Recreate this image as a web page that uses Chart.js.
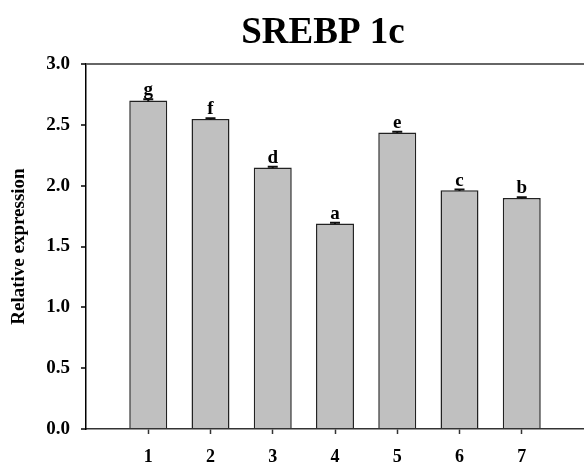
<!DOCTYPE html>
<html>
<head>
<meta charset="utf-8">
<script src="https://cdn.jsdelivr.net/npm/chart.js@4/dist/chart.umd.min.js"></script>
<style>
  html, body { margin: 0; padding: 0; background: #fff; }
  #wrap { width: 584px; height: 466px; }
</style>
</head>
<body>
<div id="wrap"><canvas id="chart" width="584" height="466"></canvas></div>
<script>
// data
const categories = ['1', '2', '3', '4', '5', '6', '7'];
const expression = [2.70, 2.547, 2.149, 1.69, 2.438, 1.962, 1.899];
const errors = [0.01, 0.008, 0.006, 0.006, 0.005, 0.006, 0.006];
const letters = ['g', 'f', 'd', 'a', 'e', 'c', 'b'];
const yTicks = [0, 0.5, 1.0, 1.5, 2.0, 2.5, 3.0];

const serif = '"Liberation Serif", "Times New Roman", serif';

// title, error bars and significance letters
const extras = {
    id: 'extras',
    afterDatasetsDraw(chart) {
        const ctx = chart.ctx;
        const y = chart.scales.y;
        const meta = chart.getDatasetMeta(0);

        ctx.save();
        // error bars
        ctx.strokeStyle = '#111';
        ctx.lineWidth = 2;
        meta.data.forEach((bar, i) => {
            const top = y.getPixelForValue(expression[i] + errors[i]);
            const bot = y.getPixelForValue(expression[i] - errors[i]);
            ctx.beginPath();
            ctx.moveTo(bar.x, top);
            ctx.lineTo(bar.x, bot);
            ctx.moveTo(bar.x - 5, top);
            ctx.lineTo(bar.x + 5, top);
            ctx.stroke();
        });

        // letters
        ctx.fillStyle = '#000';
        ctx.font = 'bold 19px ' + serif;
        ctx.textAlign = 'center';
        ctx.textBaseline = 'alphabetic';
        meta.data.forEach((bar, i) => {
            const top = y.getPixelForValue(expression[i] + errors[i]);
            ctx.fillText(letters[i], bar.x, top - 4);
        });

        // title
        ctx.font = 'bold 37px ' + serif;
        ctx.fillText('SREBP 1c', 323, 43);
        ctx.restore();
    }
};

new Chart(document.getElementById('chart'), {
    type: 'bar',
    data: {
        datasets: [{
            data: expression.map((v, i) => ({ x: i + 1, y: v })),
            backgroundColor: '#c0c0c0',
            borderColor: '#222',
            borderWidth: 1.5,
            borderSkipped: 'bottom',
            barPercentage: 0.61,
            categoryPercentage: 1
        }]
    },
    options: {
        responsive: false,
        animation: false,
        layout: { padding: { top: 64, left: 0, right: 0, bottom: 0 } },
        plugins: {
            legend: { display: false },
            tooltip: { enabled: false }
        },
        scales: {
            x: {
                type: 'linear',
                min: 0,
                max: 8,
                offset: false,
                afterBuildTicks: s => { s.ticks = categories.map((c, i) => ({ value: i + 1 })); },
                afterFit: s => { s.height = 37; },
                ticks: {
                    callback: v => categories[v - 1],
                    color: '#000',
                    padding: 13,
                    maxRotation: 0,
                    font: { family: serif, size: 18, weight: 'bold' }
                },
                grid: { offset: false, drawOnChartArea: false, tickLength: 5, tickColor: '#333', tickWidth: 1.5 },
                border: { display: true, color: '#333', width: 1.5 }
            },
            y: {
                min: 0,
                max: 3,
                afterBuildTicks: s => { s.ticks = yTicks.map(v => ({ value: v })); },
                afterFit: s => { s.width = 86; },
                ticks: {
                    callback: v => v.toFixed(1),
                    color: '#000',
                    padding: 11,
                    font: { family: serif, size: 19, weight: 'bold' }
                },
                grid: {
                    color: c => (c.tick && c.tick.value === 3 ? '#666' : 'transparent'),
                    lineWidth: 2,
                    tickLength: 5,
                    tickColor: '#000',
                    tickWidth: 1.5
                },
                border: { display: true, color: '#000', width: 1.5 },
                title: {
                    display: true,
                    text: 'Relative expression',
                    color: '#000',
                    padding: { top: 8, bottom: 0 },
                    font: { family: serif, size: 19, weight: 'bold' }
                }
            }
        }
    },
    plugins: [extras]
});
</script>
</body>
</html>
